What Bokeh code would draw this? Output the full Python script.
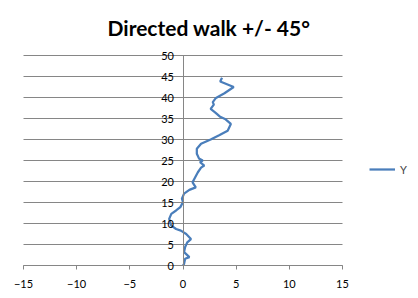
from bokeh.plotting import figure
from bokeh.models import FixedTicker, Legend, LegendItem, Title
from bokeh.embed import file_html
from bokeh.resources import INLINE

title_text = "Directed walk +/- 45°"
series_name = "Y"
x_ticks = [-15, -10, -5, 0, 5, 10, 15]
y_ticks = [0, 5, 10, 15, 20, 25, 30, 35, 40, 45, 50]

walk_x = [0, 0.1, 0.2, 0.6, 0.1, 0.2, 0.4, 0.75, 0.3, -0.2, -0.65, -1.1, -1.3, -1.1,
          -0.65, -0.25, 0.0, -0.1, 0.1, 0.6, 1.2, 0.9, 1.06, 1.4, 1.7, 2.0, 1.6, 1.85,
          1.5, 1.3, 1.3, 1.7, 2.6, 3.4, 4.2, 4.5, 3.95, 3.5, 3.1, 2.6, 2.9, 2.8, 3.1,
          3.9, 4.77, 3.5, 3.67]
walk_y = [0, 0.4, 1.6, 2.0, 3.2, 4.4, 5.5, 6.3, 7.5, 8.3, 8.7, 9.5, 11.1, 12.3,
          13.1, 13.9, 15.1, 15.9, 17.1, 18.0, 18.6, 19.8, 20.6, 22.2, 23.3, 23.8, 24.6, 25.0,
          25.5, 26.6, 27.8, 29.0, 30.0, 31.0, 32.1, 33.7, 34.9, 35.4, 36.3, 37.3, 38.3, 38.9, 39.9,
          41.0, 42.5, 43.8, 44.7]

GREY = "#868686"
FONT = "Lato"

# The frame covers the whole canvas below the title; both axes cross at the
# origin (fixed_location) and are bounded to the data window -15..15 / 0..50.
p = figure(width=418, height=298, x_range=(-17.163, 22.147), y_range=(-7.857, 51.667),
           output_backend="svg", toolbar_location=None,
           min_border_left=0, min_border_right=0, min_border_top=48, min_border_bottom=0)
p.outline_line_color = None
p.background_fill_color = "white"

t = Title(text=title_text, align="left", offset=107, text_font=FONT, text_font_size="21px",
          text_font_style="bold", text_color="black", standoff=18)
p.add_layout(t, "above")
p.title.visible = False

# horizontal gridlines at the y ticks, spanning the x tick window
p.segment(x0=[x_ticks[0]] * len(y_ticks), x1=[x_ticks[-1]] * len(y_ticks),
          y0=y_ticks, y1=y_ticks, line_color=GREY, line_width=1)

# x axis along y=0
xa = p.xaxis[0]
xa.fixed_location = 0
xa.bounds = (x_ticks[0], x_ticks[-1])
xa.ticker = FixedTicker(ticks=x_ticks)
xa.axis_line_color = GREY
xa.major_tick_line_color = GREY
xa.major_tick_out = 4
xa.major_tick_in = 0
xa.minor_tick_line_color = None
xa.major_label_text_font = FONT
xa.major_label_text_font_size = "11px"
xa.major_label_text_color = "black"
xa.major_label_standoff = 10

# y axis along x=0
ya = p.yaxis[0]
ya.fixed_location = 0
ya.bounds = (y_ticks[0], y_ticks[-1])
ya.ticker = FixedTicker(ticks=y_ticks)
ya.axis_line_color = GREY
ya.major_tick_line_color = GREY
ya.major_tick_out = 5
ya.major_tick_in = 0
ya.minor_tick_line_color = None
ya.major_label_text_font = FONT
ya.major_label_text_font_size = "11px"
ya.major_label_text_color = "black"
ya.major_label_standoff = 4

p.xgrid.visible = False
p.ygrid.visible = False

r = p.line(walk_x, walk_y, line_color="#4A7EBB", line_width=2.25)

legend = Legend(items=[LegendItem(label=series_name, renderers=[r])],
                location=(369, 121), glyph_width=26, glyph_height=16, label_standoff=5,
                padding=0, margin=0, border_line_color=None, background_fill_alpha=0,
                label_text_font=FONT, label_text_font_size="11px")
p.add_layout(legend, "center")

open("out.html", "w").write(file_html(p, INLINE))
